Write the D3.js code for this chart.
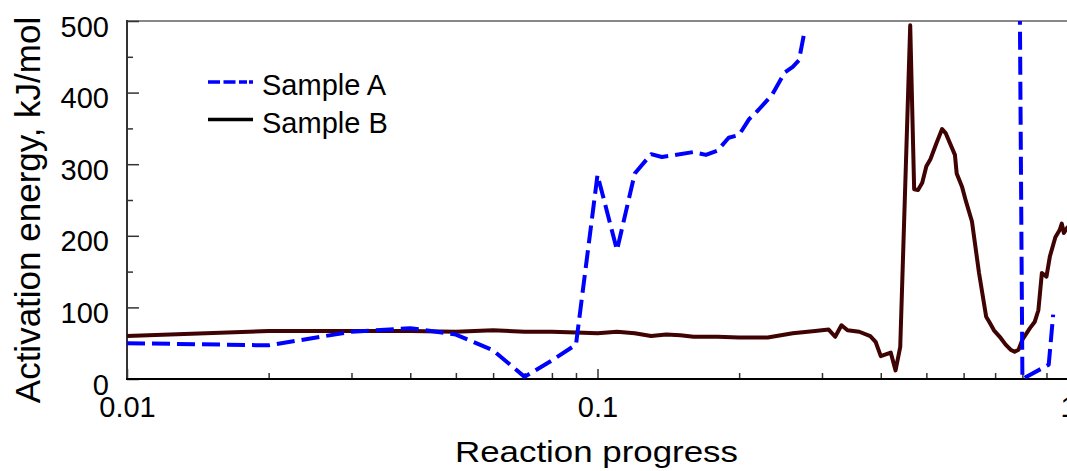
<!DOCTYPE html>
<html>
<head>
<meta charset="utf-8">
<script src="https://cdn.jsdelivr.net/npm/d3@7"></script>
<style>
  html, body { margin: 0; padding: 0; background: #fff; }
  svg { display: block; font-family: "Liberation Sans", Arial, sans-serif; }
</style>
</head>
<body>
<svg id="chart" width="1067" height="471"></svg>
<script>
// ---- Data ----
const seriesNames = ["Sample A", "Sample B"];

// Sample A (null = gap in the data / off-chart)
const progressA = [0.01, 0.02, 0.03, 0.04, 0.05, 0.06, 0.07, 0.08, 0.09, 0.1, 0.11, 0.12, 0.13, 0.137, 0.16, 0.17, 0.18, 0.19, 0.2, 0.21, 0.22, 0.235, 0.25, 0.26, 0.268, 0.275, 0.5, 0.79, 0.8, 0.91, 0.93];
const energyA   = [50, 47, 66, 71, 62, 40, 3, 26, 48, 285, 180, 287, 314, 310, 317, 313, 319, 337, 341, 363, 376, 397, 428, 436, 445, 483, null, 520, 0, 20, 90];

// Sample B
const progressB = [0.01, 0.02, 0.03, 0.04, 0.05, 0.06, 0.07, 0.08, 0.09, 0.1, 0.11, 0.12, 0.13, 0.14, 0.15, 0.16, 0.18, 0.2, 0.23, 0.26, 0.29, 0.31, 0.32, 0.33, 0.34, 0.36, 0.38, 0.39, 0.40, 0.42, 0.43, 0.44, 0.462, 0.471, 0.48, 0.49, 0.5, 0.51, 0.525, 0.54, 0.55, 0.575, 0.58, 0.595, 0.607, 0.625, 0.647, 0.67, 0.68, 0.696, 0.72, 0.737, 0.755, 0.77, 0.785, 0.80, 0.83, 0.85, 0.865, 0.88, 0.90, 0.915, 0.94, 0.96, 0.97, 0.98, 1.0];
const energyB   = [60, 67, 67, 67, 66, 68, 66, 66, 65, 64, 66, 64, 60, 62, 61, 59, 59, 58, 58, 64, 67, 69, 59, 75, 68, 66, 60, 52, 32, 37, 12, 45, 494, 265, 264, 274, 297, 307, 329, 349, 343, 313, 287, 269, 248, 220, 148, 87, 80, 68, 57, 48, 41, 38, 41, 55, 71, 80, 96, 148, 143, 171, 198, 208, 217, 204, 213];

// Tick labels
const xMajorTicks = [0.01, 0.1, 1];
const xTickLabels = ["0.01", "0.1", "1"];
const yMajorTicks = [0, 100, 200, 300, 400, 500];
const yMinorTicks = [50, 150, 250, 350, 450];
const xTitle = "Reaction progress";
const yTitle = "Activation energy, kJ/mol";

// ---- Layout ----
const svg = d3.select("#chart");
const pLeft = 127, pRight = 1068, pTop = 21, pBottom = 379;

const x = d3.scaleLog().domain([0.01, 1]).range([pLeft, pRight]);
const y = d3.scaleLinear().domain([0, 500]).range([pBottom, pTop]);

const xMinorTicks = [];
[0.01, 0.1].forEach(d => { for (let k = 2; k <= 9; k++) xMinorTicks.push(+(d * k).toFixed(4)); });

// clip
svg.append("defs").append("clipPath").attr("id", "plotclip")
  .append("rect").attr("x", pLeft).attr("y", pTop).attr("width", pRight - pLeft).attr("height", pBottom - pTop);

// top border
svg.append("line").attr("x1", pLeft).attr("x2", pRight).attr("y1", pTop).attr("y2", pTop)
  .attr("stroke", "#888").attr("stroke-width", 2);

// Y axis major
const yAxisG = svg.append("g").attr("transform", `translate(${pLeft},0)`)
  .call(d3.axisLeft(y).tickValues(yMajorTicks).tickSize(-12).tickPadding(18).tickFormat(d3.format("d")));
yAxisG.select(".domain").remove();
yAxisG.selectAll(".tick line").attr("stroke", "#333").attr("stroke-width", 1.5);
yAxisG.selectAll(".tick text").attr("font-size", 29).attr("fill", "#000").attr("dy", "0.52em")
  .attr("font-family", "'Liberation Sans', Arial, sans-serif");

// Y axis minor
const yMinorG = svg.append("g").attr("transform", `translate(${pLeft},0)`)
  .call(d3.axisLeft(y).tickValues(yMinorTicks).tickSize(-6).tickFormat(""));
yMinorG.select(".domain").remove();
yMinorG.selectAll(".tick line").attr("stroke", "#333").attr("stroke-width", 1.5);

// X axis major
const xAxisG = svg.append("g").attr("transform", `translate(0,${pBottom})`)
  .call(d3.axisBottom(x).tickValues(xMajorTicks).tickSize(-10).tickPadding(17)
    .tickFormat((d, i) => xTickLabels[i]));
xAxisG.select(".domain").remove();
xAxisG.selectAll(".tick line").attr("stroke", "#333").attr("stroke-width", 1.5);
xAxisG.selectAll(".tick text").attr("font-size", 29).attr("fill", "#000")
  .attr("font-family", "'Liberation Sans', Arial, sans-serif");

// X axis minor
const xMinorG = svg.append("g").attr("transform", `translate(0,${pBottom})`)
  .call(d3.axisBottom(x).tickValues(xMinorTicks).tickSize(-6).tickFormat(""));
xMinorG.select(".domain").remove();
xMinorG.selectAll(".tick line").attr("stroke", "#333").attr("stroke-width", 1.5);

// axis lines
svg.append("line").attr("x1", pLeft).attr("x2", pLeft).attr("y1", pTop - 1).attr("y2", pBottom + 1)
  .attr("stroke", "#333").attr("stroke-width", 2);
svg.append("line").attr("x1", pLeft - 1).attr("x2", pRight).attr("y1", pBottom).attr("y2", pBottom)
  .attr("stroke", "#000").attr("stroke-width", 2);

// lines
const line = d3.line()
  .defined(d => d[1] !== null)
  .x(d => x(d[0])).y(d => y(d[1]));

const dataA = progressA.map((p, i) => [p, energyA[i]]);
const dataB = progressB.map((p, i) => [p, energyB[i]]);

const plot = svg.append("g").attr("clip-path", "url(#plotclip)");
plot.append("path").datum(dataB).attr("d", line)
  .attr("fill", "none").attr("stroke", "#3f0303").attr("stroke-width", 4)
  .attr("stroke-linejoin", "round");
plot.append("path").datum(dataA).attr("d", line)
  .attr("fill", "none").attr("stroke", "#0000ff").attr("stroke-width", 4)
  .attr("stroke-dasharray", "18,7").attr("stroke-linejoin", "round");

// legend
const legend = svg.append("g");
legend.append("line").attr("x1", 208).attr("x2", 253).attr("y1", 82).attr("y2", 82)
  .attr("stroke", "#0000ff").attr("stroke-width", 3.5).attr("stroke-dasharray", "12,3.5,12,3.5,8,2,4,2");
legend.append("text").attr("x", 262).attr("y", 95).attr("font-size", 29).text(seriesNames[0]);
legend.append("line").attr("x1", 208).attr("x2", 253).attr("y1", 119.5).attr("y2", 119.5)
  .attr("stroke", "#000").attr("stroke-width", 3.5);
legend.append("text").attr("x", 262).attr("y", 133).attr("font-size", 29).text(seriesNames[1]);

// axis titles
svg.append("text").attr("x", 596.5).attr("y", 462).attr("text-anchor", "middle")
  .attr("font-size", 30).attr("textLength", 283).attr("lengthAdjust", "spacingAndGlyphs")
  .text(xTitle);
svg.append("text").attr("transform", "translate(40,210) rotate(-90)").attr("text-anchor", "middle")
  .attr("font-size", 35).text(yTitle);
</script>
</body>
</html>
